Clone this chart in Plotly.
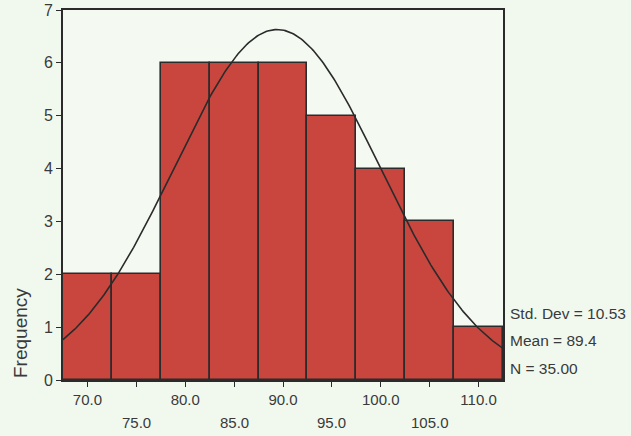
import numpy as np
import plotly.graph_objects as go

# Data
bin_centers = [70, 75, 80, 85, 90, 95, 100, 105, 110]
frequencies = [2, 2, 6, 6, 6, 5, 4, 3, 1]
bin_width = 5
row1_ticks = [70, 80, 90, 100, 110]
row1_labels = ["70.0", "80.0", "90.0", "100.0", "110.0"]
row2_ticks = [75, 85, 95, 105]
row2_labels = ["75.0", "85.0", "95.0", "105.0"]
y_ticks = [0, 1, 2, 3, 4, 5, 6, 7]
std_dev = 10.53
mean = 89.4
n_total = 35
stats_lines = ["Std. Dev = 10.53", "Mean = 89.4", "N = 35.00"]

x_min = bin_centers[0] - bin_width / 2
x_max = bin_centers[-1] + bin_width / 2

fig = go.Figure()
fig.add_trace(go.Bar(
    x=bin_centers, y=frequencies, width=bin_width,
    marker=dict(color="#c9463f", line=dict(color="#2b2b2b", width=1.6)),
    showlegend=False, hoverinfo="skip",
))

xs = np.linspace(x_min, x_max, 300)
ys = n_total * bin_width / (std_dev * np.sqrt(2 * np.pi)) * np.exp(-0.5 * ((xs - mean) / std_dev) ** 2)
fig.add_trace(go.Scatter(x=xs, y=ys, mode="lines",
                         line=dict(color="#2b2b2b", width=1.6),
                         showlegend=False, hoverinfo="skip"))

font = "Liberation Sans, Arial, sans-serif"
txt = "#3a3a3a"
fig.update_layout(
    width=631, height=436,
    margin=dict(l=63, r=128, t=10, b=56, autoexpand=False),
    paper_bgcolor="#f1f9ef", plot_bgcolor="#f4faf2",
    bargap=0,
    font=dict(family=font, size=15, color=txt),
    xaxis=dict(range=[x_min, x_max], tickmode="array",
               tickvals=row1_ticks + row2_ticks,
               ticktext=row1_labels + [""] * len(row2_ticks),
               ticks="outside", ticklen=5, tickcolor="#2b2b2b",
               showline=True, linecolor="#2b2b2b", linewidth=1.6, mirror=True,
               showgrid=False, zeroline=False, automargin=False,
               tickfont=dict(size=15, color=txt)),
    yaxis=dict(range=[0, 7], tickmode="array", tickvals=y_ticks,
               ticks="outside", ticklen=5, tickcolor="#2b2b2b",
               showline=True, linecolor="#2b2b2b", linewidth=1.6, mirror=True,
               showgrid=False, zeroline=False, automargin=False,
               tickfont=dict(size=16, color=txt)),
)

# Y axis title, placed low as in the original
fig.add_annotation(x=0, y=0, xref="paper", yref="paper", text="Frequency", showarrow=False,
                   textangle=-90, xanchor="center", yanchor="bottom", xshift=-43,
                   font=dict(size=19, color=txt))

for v, lab in zip(row2_ticks, row2_labels):
    fig.add_annotation(x=v, y=0, xref="x", yref="paper", text=lab, showarrow=False,
                       yanchor="middle", yshift=-42, font=dict(size=15, color=txt))

for i, line in enumerate(stats_lines):
    fig.add_annotation(x=1, y=0, xref="paper", yref="paper", text=line, showarrow=False,
                       xanchor="left", yanchor="middle", xshift=5, yshift=67 - 27.5 * i,
                       font=dict(size=15.5, color=txt))

fig.write_html("out.html", config={"displayModeBar": False},
               post_script="document.body.style.margin='0';")
